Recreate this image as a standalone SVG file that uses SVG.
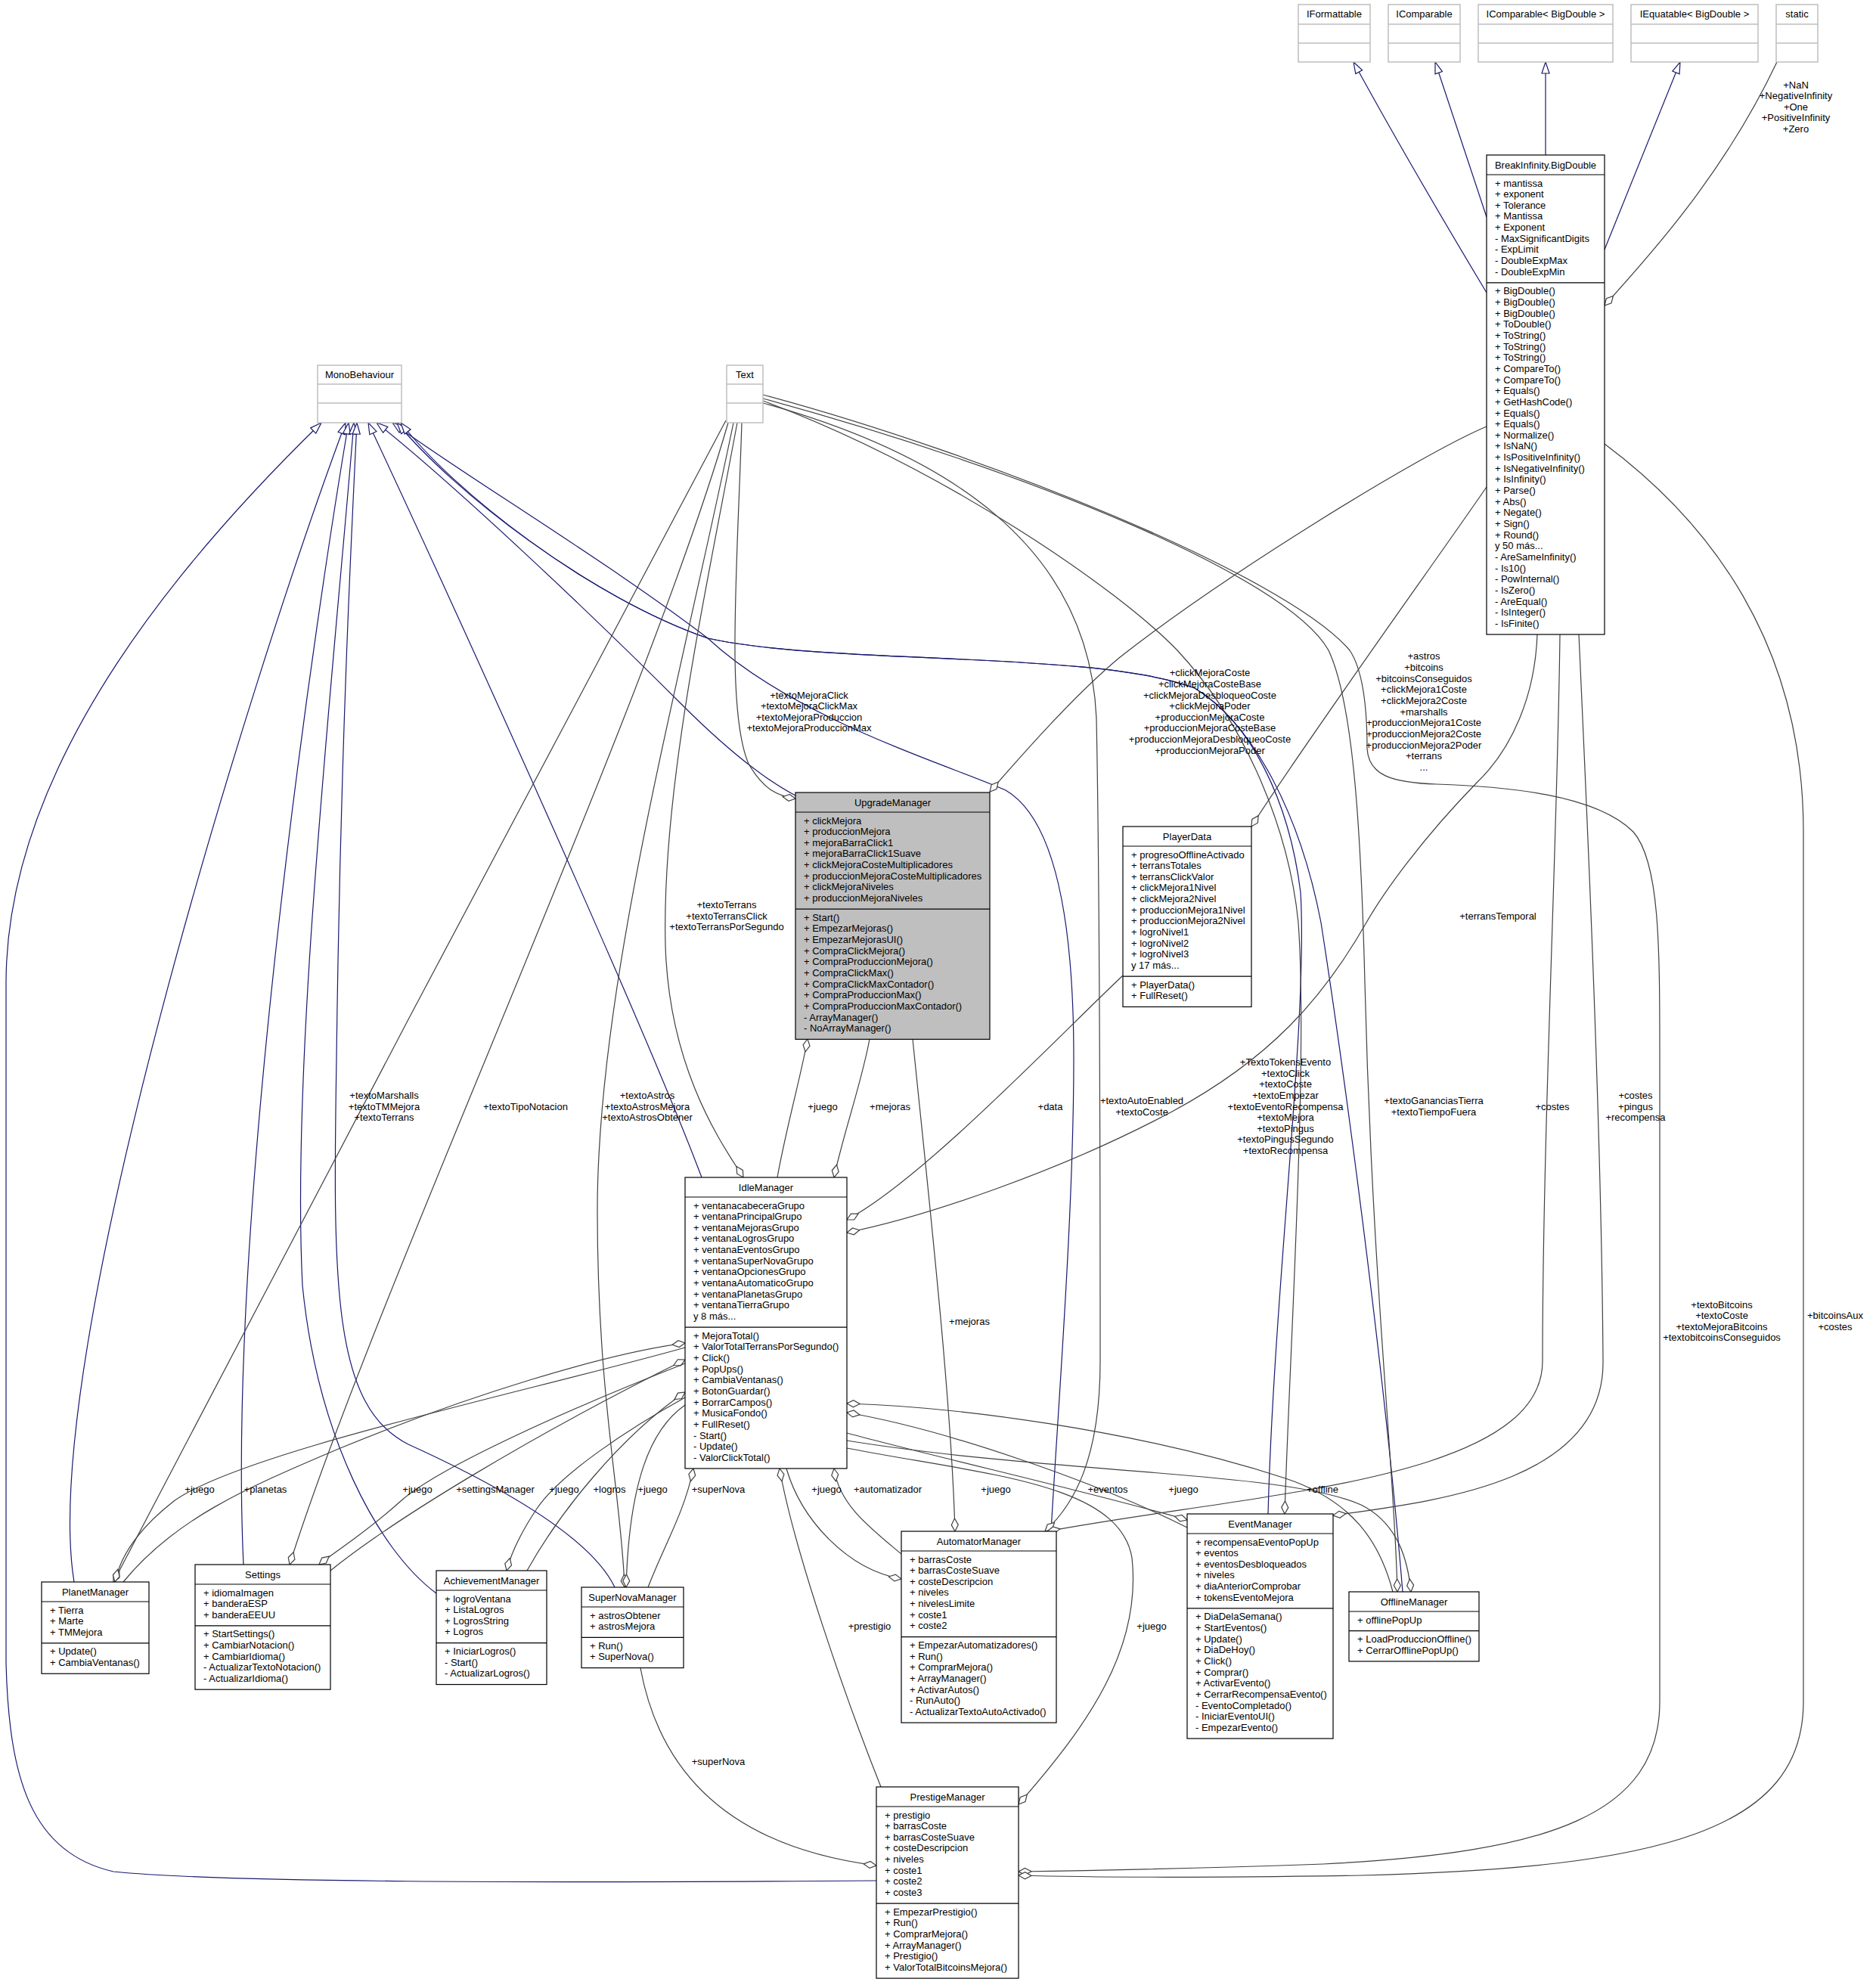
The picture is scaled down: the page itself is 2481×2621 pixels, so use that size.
<svg xmlns="http://www.w3.org/2000/svg" width="2481" height="2621" viewBox="0 0 2481 2621">
<style>
.box{fill:#fff;stroke:#000;stroke-width:1.2}
.sel{fill:#bfbfbf;stroke:#000;stroke-width:1.2}
.ext{fill:#fff;stroke:#bfbfbf;stroke-width:1.5}
.sep{fill:none;stroke:#000;stroke-width:1.2}
.esep{fill:none;stroke:#bfbfbf;stroke-width:1.5}
text{font-family:"Liberation Sans",Arial,sans-serif;font-size:13px;fill:#000}
.hd,.lb{text-anchor:middle}
.inh{fill:none;stroke:#191970;stroke-width:1.2;marker-end:url(#tri)}
.col{fill:none;stroke:#404040;stroke-width:1.2;marker-end:url(#dia)}
</style>
<defs>
<marker id="tri" markerUnits="userSpaceOnUse" viewBox="-1 -1 17 12" markerWidth="17" markerHeight="12" refX="15" refY="5" orient="auto">
<path d="M0,0 L15,5 L0,10 Z" fill="#fff" stroke="#191970" stroke-width="1.2"/>
</marker>
<marker id="dia" markerUnits="userSpaceOnUse" viewBox="-1 -1 19 11" markerWidth="19" markerHeight="11" refX="17" refY="4.5" orient="auto">
<path d="M0,4.5 L8.5,0 L17,4.5 L8.5,9 Z" fill="#fff" stroke="#404040" stroke-width="1.2"/>
</marker>
</defs>
<rect width="2481" height="2621" fill="#fff"/>

<!-- connectors -->
<g id="edges">
<!-- inheritance -->
<path class="inh" d="M1966,387 C1930,327 1860,210 1790,82"/>
<path class="inh" d="M1966,287 L1898,82"/>
<path class="inh" d="M2044,205 L2044,82"/>
<path class="inh" d="M2122,330 L2222,82"/>
<path class="inh" d="M1159,2487 C700,2490 300,2490 150,2475 C40,2450 12,2350 8,2200 L8,1300 C8,1000 260,720 425,559"/>
<path class="inh" d="M98,2092 C50,1800 330,900 457,559"/>
<path class="inh" d="M322,2069 C300,1600 420,800 461,559"/>
<path class="inh" d="M577,2107 C500,2050 420,1900 400,1700 C385,1400 440,900 468,559"/>
<path class="inh" d="M813,2099 C780,2030 650,1960 540,1910 C440,1860 440,1700 445,1400 C450,1000 465,700 472,559"/>
<path class="inh" d="M928,1557 C850,1350 600,800 487,559"/>
<path class="inh" d="M1052,1052 C1010,1030 960,990 900,930 C780,810 600,640 498,559"/>
<path class="inh" d="M1390,2025 C1400,1850 1420,1600 1420,1400 C1420,1200 1390,1080 1330,1045 C1250,1010 1050,950 936,844 C800,740 600,620 519,559"/>
<path class="inh" d="M1677,2002 C1685,1700 1730,1350 1720,1180 C1705,1060 1655,955 1580,910 C1450,860 1100,880 936,844 C780,790 600,650 525,559"/>
<path class="inh" d="M1855,2105 C1830,1800 1775,1400 1747,1220 C1720,1080 1660,960 1580,910 C1450,860 1100,880 936,844 C780,790 600,650 530,559"/>
<!-- usage -->
<path class="col" d="M2350,82 C2280,230 2180,340 2122,404"/>
<path class="col" d="M960,556 C820,820 320,1760 150,2092"/>
<path class="col" d="M963,559 C850,950 500,1700 383,2069"/>
<path class="col" d="M970,559 C900,900 790,1300 790,1600 C790,1850 822,1980 826,2099"/>
<path class="col" d="M975,559 C930,800 875,1050 880,1250 C885,1420 960,1520 983,1557"/>
<path class="col" d="M981,559 C975,750 960,940 990,1010 C1010,1045 1030,1053 1052,1056"/>
<path class="col" d="M1009,533 C1250,600 1440,720 1450,950 C1455,1200 1455,1600 1455,1800 C1455,1930 1420,1990 1382,2025"/>
<path class="col" d="M1009,530 C1250,620 1480,780 1557,860 C1650,960 1705,1100 1717,1220 C1730,1400 1705,1800 1699,2002"/>
<path class="col" d="M1009,527 C1350,620 1700,760 1757,860 C1790,930 1800,1100 1805,1300 C1815,1700 1845,1950 1848,2105"/>
<path class="col" d="M1009,522 C1300,600 1700,760 1785,860 C1805,890 1808,950 1808,990 C1810,1025 1840,1035 1900,1037 C1990,1040 2110,1050 2160,1100 C2195,1140 2195,1250 2195,1400 L2195,2250 C2195,2400 2050,2450 1750,2465 C1550,2472 1420,2474 1347,2475"/>
<path class="col" d="M1966,564 C1880,600 1620,760 1480,870 C1420,920 1350,1000 1309,1047"/>
<path class="col" d="M1966,644 C1900,740 1720,990 1655,1093"/>
<path class="col" d="M2033,839 C2030,920 2000,990 1953,1035 C1880,1110 1830,1180 1807,1220 C1750,1320 1680,1400 1550,1470 C1400,1550 1220,1610 1120,1630"/>
<path class="col" d="M2063,839 C2060,1100 2040,1500 2040,1800 C2040,1960 1650,1975 1385,2025"/>
<path class="col" d="M2088,839 C2100,1100 2118,1500 2120,1800 C2122,1960 1900,1985 1763,2004"/>
<path class="col" d="M2122,587 C2260,690 2385,850 2385,1100 L2385,2250 C2385,2420 2200,2470 1800,2480 C1550,2484 1420,2482 1347,2480"/>
<path class="col" d="M1485,1290 C1400,1370 1220,1560 1120,1613"/>
<path class="col" d="M1028,1557 C1040,1490 1060,1420 1068,1374"/>
<path class="col" d="M1150,1374 C1140,1430 1115,1500 1103,1557"/>
<path class="col" d="M1207,1374 C1230,1600 1258,1850 1263,2025"/>
<path class="col" d="M163,2092 C230,2010 320,1970 450,1915 C620,1845 800,1790 906,1776"/>
<path class="col" d="M906,1782 C700,1840 320,1920 230,1985 C185,2020 160,2055 152,2092"/>
<path class="col" d="M437,2077 C520,2010 700,1900 906,1798"/>
<path class="col" d="M906,1803 C760,1860 580,1940 530,1985 C480,2030 445,2050 422,2069"/>
<path class="col" d="M697,2077 C740,2000 820,1900 906,1841"/>
<path class="col" d="M906,1848 C830,1890 740,1950 710,1995 C690,2025 677,2050 670,2077"/>
<path class="col" d="M906,1858 C860,1890 832,1960 828,2099"/>
<path class="col" d="M857,2099 C880,2040 905,2000 917,1942"/>
<path class="col" d="M1165,2363 C1120,2250 1050,2050 1031,1942"/>
<path class="col" d="M1040,1942 C1060,2010 1120,2075 1192,2088"/>
<path class="col" d="M1192,2055 C1150,2020 1110,1990 1103,1942"/>
<path class="col" d="M1120,1895 C1250,1930 1450,1975 1570,2010"/>
<path class="col" d="M1570,2020 C1450,1960 1250,1890 1120,1868"/>
<path class="col" d="M1120,1905 C1400,1950 1700,1945 1800,1990 C1850,2015 1862,2065 1866,2105"/>
<path class="col" d="M1842,2105 C1825,2040 1790,1985 1700,1955 C1500,1890 1260,1860 1120,1856"/>
<path class="col" d="M1120,1915 C1300,1950 1480,1960 1497,2060 C1510,2180 1440,2280 1347,2386"/>
<path class="col" d="M847,2206 C870,2330 950,2440 1159,2467"/>

<!-- edge labels -->
<text class="lb" x="2375" y="116.5"><tspan x="2375">+NaN</tspan><tspan x="2375" dy="14.65">+NegativeInfinity</tspan><tspan x="2375" dy="14.65">+One</tspan><tspan x="2375" dy="14.65">+PositiveInfinity</tspan><tspan x="2375" dy="14.65">+Zero</tspan></text>
<text class="lb" x="1070" y="923.5"><tspan x="1070">+textoMejoraClick</tspan><tspan x="1070" dy="14.65">+textoMejoraClickMax</tspan><tspan x="1070" dy="14.65">+textoMejoraProduccion</tspan><tspan x="1070" dy="14.65">+textoMejoraProduccionMax</tspan></text>
<text class="lb" x="1600" y="894.2"><tspan x="1600">+clickMejoraCoste</tspan><tspan x="1600" dy="14.65">+clickMejoraCosteBase</tspan><tspan x="1600" dy="14.65">+clickMejoraDesbloqueoCoste</tspan><tspan x="1600" dy="14.65">+clickMejoraPoder</tspan><tspan x="1600" dy="14.65">+produccionMejoraCoste</tspan><tspan x="1600" dy="14.65">+produccionMejoraCosteBase</tspan><tspan x="1600" dy="14.65">+produccionMejoraDesbloqueoCoste</tspan><tspan x="1600" dy="14.65">+produccionMejoraPoder</tspan></text>
<text class="lb" x="1883" y="872.3"><tspan x="1883">+astros</tspan><tspan x="1883" dy="14.65">+bitcoins</tspan><tspan x="1883" dy="14.65">+bitcoinsConseguidos</tspan><tspan x="1883" dy="14.65">+clickMejora1Coste</tspan><tspan x="1883" dy="14.65">+clickMejora2Coste</tspan><tspan x="1883" dy="14.65">+marshalls</tspan><tspan x="1883" dy="14.65">+produccionMejora1Coste</tspan><tspan x="1883" dy="14.65">+produccionMejora2Coste</tspan><tspan x="1883" dy="14.65">+produccionMejora2Poder</tspan><tspan x="1883" dy="14.65">+terrans</tspan><tspan x="1883" dy="14.65">...</tspan></text>
<text class="lb" x="961" y="1200.9"><tspan x="961">+textoTerrans</tspan><tspan x="961" dy="14.65">+textoTerransClick</tspan><tspan x="961" dy="14.65">+textoTerransPorSegundo</tspan></text>
<text class="lb" x="1981" y="1215.5">+terransTemporal</text>
<text class="lb" x="508" y="1452.9"><tspan x="508">+textoMarshalls</tspan><tspan x="508" dy="14.65">+textoTMMejora</tspan><tspan x="508" dy="14.65">+textoTerrans</tspan></text>
<text class="lb" x="695" y="1467.5">+textoTipoNotacion</text>
<text class="lb" x="856" y="1452.9"><tspan x="856">+textoAstros</tspan><tspan x="856" dy="14.65">+textoAstrosMejora</tspan><tspan x="856" dy="14.65">+textoAstrosObtener</tspan></text>
<text class="lb" x="1088" y="1467.5">+juego</text>
<text class="lb" x="1177" y="1467.5">+mejoras</text>
<text class="lb" x="1389" y="1467.5">+data</text>
<text class="lb" x="1510" y="1460.2"><tspan x="1510">+textoAutoEnabled</tspan><tspan x="1510" dy="14.65">+textoCoste</tspan></text>
<text class="lb" x="1700" y="1408.9"><tspan x="1700">+TextoTokensEvento</tspan><tspan x="1700" dy="14.65">+textoClick</tspan><tspan x="1700" dy="14.65">+textoCoste</tspan><tspan x="1700" dy="14.65">+textoEmpezar</tspan><tspan x="1700" dy="14.65">+textoEventoRecompensa</tspan><tspan x="1700" dy="14.65">+textoMejora</tspan><tspan x="1700" dy="14.65">+textoPingus</tspan><tspan x="1700" dy="14.65">+textoPingusSegundo</tspan><tspan x="1700" dy="14.65">+textoRecompensa</tspan></text>
<text class="lb" x="1896" y="1460.2"><tspan x="1896">+textoGananciasTierra</tspan><tspan x="1896" dy="14.65">+textoTiempoFuera</tspan></text>
<text class="lb" x="2053" y="1467.5">+costes</text>
<text class="lb" x="2163" y="1452.9"><tspan x="2163">+costes</tspan><tspan x="2163" dy="14.65">+pingus</tspan><tspan x="2163" dy="14.65">+recompensa</tspan></text>
<text class="lb" x="1282" y="1751.5">+mejoras</text>
<text class="lb" x="2277" y="1729.5"><tspan x="2277">+textoBitcoins</tspan><tspan x="2277" dy="14.65">+textoCoste</tspan><tspan x="2277" dy="14.65">+textoMejoraBitcoins</tspan><tspan x="2277" dy="14.65">+textobitcoinsConseguidos</tspan></text>
<text class="lb" x="2427" y="1744.2"><tspan x="2427">+bitcoinsAux</tspan><tspan x="2427" dy="14.65">+costes</tspan></text>
<text class="lb" x="264" y="1973.5">+juego</text>
<text class="lb" x="351" y="1973.5">+planetas</text>
<text class="lb" x="552" y="1973.5">+juego</text>
<text class="lb" x="655" y="1973.5">+settingsManager</text>
<text class="lb" x="746" y="1973.5">+juego</text>
<text class="lb" x="806" y="1973.5">+logros</text>
<text class="lb" x="863" y="1973.5">+juego</text>
<text class="lb" x="950" y="1973.5">+superNova</text>
<text class="lb" x="1093" y="1973.5">+juego</text>
<text class="lb" x="1174" y="1973.5">+automatizador</text>
<text class="lb" x="1317" y="1973.5">+juego</text>
<text class="lb" x="1465" y="1973.5">+eventos</text>
<text class="lb" x="1565" y="1973.5">+juego</text>
<text class="lb" x="1749" y="1973.5">+offline</text>
<text class="lb" x="1150" y="2154.5">+prestigio</text>
<text class="lb" x="1523" y="2154.5">+juego</text>
<text class="lb" x="950" y="2333.5">+superNova</text>
</g>

<!-- external classes -->
<g id="IFormattable">
<rect class="ext" x="1717" y="6" width="95" height="76"/>
<path class="esep" d="M1717,32H1812M1717,57H1812"/>
<text class="hd" x="1764.5" y="23">IFormattable</text>
</g>
<g id="IComparable">
<rect class="ext" x="1836" y="6" width="95" height="76"/>
<path class="esep" d="M1836,32H1931M1836,57H1931"/>
<text class="hd" x="1883.5" y="23">IComparable</text>
</g>
<g id="IComparableBigDouble">
<rect class="ext" x="1955" y="6" width="178" height="76"/>
<path class="esep" d="M1955,32H2133M1955,57H2133"/>
<text class="hd" x="2044" y="23">IComparable&lt; BigDouble &gt;</text>
</g>
<g id="IEquatableBigDouble">
<rect class="ext" x="2157" y="6" width="168" height="76"/>
<path class="esep" d="M2157,32H2325M2157,57H2325"/>
<text class="hd" x="2241" y="23">IEquatable&lt; BigDouble &gt;</text>
</g>
<g id="static">
<rect class="ext" x="2349" y="6" width="55" height="76"/>
<path class="esep" d="M2349,32H2404M2349,57H2404"/>
<text class="hd" x="2376.5" y="23">static</text>
</g>
<g id="MonoBehaviour">
<rect class="ext" x="420" y="483" width="111" height="76"/>
<path class="esep" d="M420,508H531M420,533H531"/>
<text class="hd" x="475.5" y="500">MonoBehaviour</text>
</g>
<g id="Text">
<rect class="ext" x="961" y="483" width="48" height="76"/>
<path class="esep" d="M961,508H1009M961,533H1009"/>
<text class="hd" x="985" y="500">Text</text>
</g>

<!-- project classes -->
<g id="BigDouble">
<rect class="box" x="1966" y="205" width="156" height="634"/>
<path class="sep" d="M1966,231H2122M1966,373.85H2122"/>
<text class="hd" x="2044" y="223">BreakInfinity.BigDouble</text>
<text x="1977" y="246.5"><tspan x="1977">+ mantissa</tspan><tspan x="1977" dy="14.65">+ exponent</tspan><tspan x="1977" dy="14.65">+ Tolerance</tspan><tspan x="1977" dy="14.65">+ Mantissa</tspan><tspan x="1977" dy="14.65">+ Exponent</tspan><tspan x="1977" dy="14.65">- MaxSignificantDigits</tspan><tspan x="1977" dy="14.65">- ExpLimit</tspan><tspan x="1977" dy="14.65">- DoubleExpMax</tspan><tspan x="1977" dy="14.65">- DoubleExpMin</tspan></text>
<text x="1977" y="389.35"><tspan x="1977">+ BigDouble()</tspan><tspan x="1977" dy="14.65">+ BigDouble()</tspan><tspan x="1977" dy="14.65">+ BigDouble()</tspan><tspan x="1977" dy="14.65">+ ToDouble()</tspan><tspan x="1977" dy="14.65">+ ToString()</tspan><tspan x="1977" dy="14.65">+ ToString()</tspan><tspan x="1977" dy="14.65">+ ToString()</tspan><tspan x="1977" dy="14.65">+ CompareTo()</tspan><tspan x="1977" dy="14.65">+ CompareTo()</tspan><tspan x="1977" dy="14.65">+ Equals()</tspan><tspan x="1977" dy="14.65">+ GetHashCode()</tspan><tspan x="1977" dy="14.65">+ Equals()</tspan><tspan x="1977" dy="14.65">+ Equals()</tspan><tspan x="1977" dy="14.65">+ Normalize()</tspan><tspan x="1977" dy="14.65">+ IsNaN()</tspan><tspan x="1977" dy="14.65">+ IsPositiveInfinity()</tspan><tspan x="1977" dy="14.65">+ IsNegativeInfinity()</tspan><tspan x="1977" dy="14.65">+ IsInfinity()</tspan><tspan x="1977" dy="14.65">+ Parse()</tspan><tspan x="1977" dy="14.65">+ Abs()</tspan><tspan x="1977" dy="14.65">+ Negate()</tspan><tspan x="1977" dy="14.65">+ Sign()</tspan><tspan x="1977" dy="14.65">+ Round()</tspan><tspan x="1977" dy="14.65">y 50 más...</tspan><tspan x="1977" dy="14.65">- AreSameInfinity()</tspan><tspan x="1977" dy="14.65">- Is10()</tspan><tspan x="1977" dy="14.65">- PowInternal()</tspan><tspan x="1977" dy="14.65">- IsZero()</tspan><tspan x="1977" dy="14.65">- AreEqual()</tspan><tspan x="1977" dy="14.65">- IsInteger()</tspan><tspan x="1977" dy="14.65">- IsFinite()</tspan></text>
</g>

<g id="UpgradeManager">
<rect class="sel" x="1052" y="1048" width="257" height="326.35"/>
<path class="sep" d="M1052,1074H1309M1052,1202.2H1309"/>
<text class="hd" x="1180.5" y="1066">UpgradeManager</text>
<text x="1063" y="1089.5"><tspan x="1063">+ clickMejora</tspan><tspan x="1063" dy="14.65">+ produccionMejora</tspan><tspan x="1063" dy="14.65">+ mejoraBarraClick1</tspan><tspan x="1063" dy="14.65">+ mejoraBarraClick1Suave</tspan><tspan x="1063" dy="14.65">+ clickMejoraCosteMultiplicadores</tspan><tspan x="1063" dy="14.65">+ produccionMejoraCosteMultiplicadores</tspan><tspan x="1063" dy="14.65">+ clickMejoraNiveles</tspan><tspan x="1063" dy="14.65">+ produccionMejoraNiveles</tspan></text>
<text x="1063" y="1217.7"><tspan x="1063">+ Start()</tspan><tspan x="1063" dy="14.65">+ EmpezarMejoras()</tspan><tspan x="1063" dy="14.65">+ EmpezarMejorasUI()</tspan><tspan x="1063" dy="14.65">+ CompraClickMejora()</tspan><tspan x="1063" dy="14.65">+ CompraProduccionMejora()</tspan><tspan x="1063" dy="14.65">+ CompraClickMax()</tspan><tspan x="1063" dy="14.65">+ CompraClickMaxContador()</tspan><tspan x="1063" dy="14.65">+ CompraProduccionMax()</tspan><tspan x="1063" dy="14.65">+ CompraProduccionMaxContador()</tspan><tspan x="1063" dy="14.65">- ArrayManager()</tspan><tspan x="1063" dy="14.65">- NoArrayManager()</tspan></text>
</g>

<g id="PlayerData">
<rect class="box" x="1485" y="1093" width="170" height="238.45"/>
<path class="sep" d="M1485,1119H1655M1485,1291.15H1655"/>
<text class="hd" x="1570" y="1111">PlayerData</text>
<text x="1496" y="1134.5"><tspan x="1496">+ progresoOfflineActivado</tspan><tspan x="1496" dy="14.65">+ terransTotales</tspan><tspan x="1496" dy="14.65">+ terransClickValor</tspan><tspan x="1496" dy="14.65">+ clickMejora1Nivel</tspan><tspan x="1496" dy="14.65">+ clickMejora2Nivel</tspan><tspan x="1496" dy="14.65">+ produccionMejora1Nivel</tspan><tspan x="1496" dy="14.65">+ produccionMejora2Nivel</tspan><tspan x="1496" dy="14.65">+ logroNivel1</tspan><tspan x="1496" dy="14.65">+ logroNivel2</tspan><tspan x="1496" dy="14.65">+ logroNivel3</tspan><tspan x="1496" dy="14.65">y 17 más...</tspan></text>
<text x="1496" y="1306.65"><tspan x="1496">+ PlayerData()</tspan><tspan x="1496" dy="14.65">+ FullReset()</tspan></text>
</g>

<g id="IdleManager">
<rect class="box" x="906" y="1557" width="214" height="384.95"/>
<path class="sep" d="M906,1583H1120M906,1755.15H1120"/>
<text class="hd" x="1013" y="1575">IdleManager</text>
<text x="917" y="1598.5"><tspan x="917">+ ventanacabeceraGrupo</tspan><tspan x="917" dy="14.65">+ ventanaPrincipalGrupo</tspan><tspan x="917" dy="14.65">+ ventanaMejorasGrupo</tspan><tspan x="917" dy="14.65">+ ventanaLogrosGrupo</tspan><tspan x="917" dy="14.65">+ ventanaEventosGrupo</tspan><tspan x="917" dy="14.65">+ ventanaSuperNovaGrupo</tspan><tspan x="917" dy="14.65">+ ventanaOpcionesGrupo</tspan><tspan x="917" dy="14.65">+ ventanaAutomaticoGrupo</tspan><tspan x="917" dy="14.65">+ ventanaPlanetasGrupo</tspan><tspan x="917" dy="14.65">+ ventanaTierraGrupo</tspan><tspan x="917" dy="14.65">y 8 más...</tspan></text>
<text x="917" y="1770.65"><tspan x="917">+ MejoraTotal()</tspan><tspan x="917" dy="14.65">+ ValorTotalTerransPorSegundo()</tspan><tspan x="917" dy="14.65">+ Click()</tspan><tspan x="917" dy="14.65">+ PopUps()</tspan><tspan x="917" dy="14.65">+ CambiaVentanas()</tspan><tspan x="917" dy="14.65">+ BotonGuardar()</tspan><tspan x="917" dy="14.65">+ BorrarCampos()</tspan><tspan x="917" dy="14.65">+ MusicaFondo()</tspan><tspan x="917" dy="14.65">+ FullReset()</tspan><tspan x="917" dy="14.65">- Start()</tspan><tspan x="917" dy="14.65">- Update()</tspan><tspan x="917" dy="14.65">- ValorClickTotal()</tspan></text>
</g>

<g id="PlanetManager">
<rect class="box" x="55" y="2092" width="142" height="121.25"/>
<path class="sep" d="M55,2118H197M55,2172.95H197"/>
<text class="hd" x="126" y="2110">PlanetManager</text>
<text x="66" y="2133.5"><tspan x="66">+ Tierra</tspan><tspan x="66" dy="14.65">+ Marte</tspan><tspan x="66" dy="14.65">+ TMMejora</tspan></text>
<text x="66" y="2188.45"><tspan x="66">+ Update()</tspan><tspan x="66" dy="14.65">+ CambiaVentanas()</tspan></text>
</g>

<g id="Settings">
<rect class="box" x="258" y="2069" width="179" height="165.2"/>
<path class="sep" d="M258,2095H437M258,2149.95H437"/>
<text class="hd" x="347.5" y="2087">Settings</text>
<text x="269" y="2110.5"><tspan x="269">+ idiomaImagen</tspan><tspan x="269" dy="14.65">+ banderaESP</tspan><tspan x="269" dy="14.65">+ banderaEEUU</tspan></text>
<text x="269" y="2165.45"><tspan x="269">+ StartSettings()</tspan><tspan x="269" dy="14.65">+ CambiarNotacion()</tspan><tspan x="269" dy="14.65">+ CambiarIdioma()</tspan><tspan x="269" dy="14.65">- ActualizarTextoNotacion()</tspan><tspan x="269" dy="14.65">- ActualizarIdioma()</tspan></text>
</g>

<g id="AchievementManager">
<rect class="box" x="577" y="2077" width="146" height="150.55"/>
<path class="sep" d="M577,2103H723M577,2172.6H723"/>
<text class="hd" x="650" y="2095">AchievementManager</text>
<text x="588" y="2118.5"><tspan x="588">+ logroVentana</tspan><tspan x="588" dy="14.65">+ ListaLogros</tspan><tspan x="588" dy="14.65">+ LogrosString</tspan><tspan x="588" dy="14.65">+ Logros</tspan></text>
<text x="588" y="2188.1"><tspan x="588">+ IniciarLogros()</tspan><tspan x="588" dy="14.65">- Start()</tspan><tspan x="588" dy="14.65">- ActualizarLogros()</tspan></text>
</g>

<g id="SuperNovaManager">
<rect class="box" x="769" y="2099" width="135" height="106.6"/>
<path class="sep" d="M769,2125H904M769,2165.3H904"/>
<text class="hd" x="836.5" y="2117">SuperNovaManager</text>
<text x="780" y="2140.5"><tspan x="780">+ astrosObtener</tspan><tspan x="780" dy="14.65">+ astrosMejora</tspan></text>
<text x="780" y="2180.8"><tspan x="780">+ Run()</tspan><tspan x="780" dy="14.65">+ SuperNova()</tspan></text>
</g>

<g id="AutomatorManager">
<rect class="box" x="1192" y="2025" width="205" height="253.1"/>
<path class="sep" d="M1192,2051H1397M1192,2164.55H1397"/>
<text class="hd" x="1294.5" y="2043">AutomatorManager</text>
<text x="1203" y="2066.5"><tspan x="1203">+ barrasCoste</tspan><tspan x="1203" dy="14.65">+ barrasCosteSuave</tspan><tspan x="1203" dy="14.65">+ costeDescripcion</tspan><tspan x="1203" dy="14.65">+ niveles</tspan><tspan x="1203" dy="14.65">+ nivelesLimite</tspan><tspan x="1203" dy="14.65">+ coste1</tspan><tspan x="1203" dy="14.65">+ coste2</tspan></text>
<text x="1203" y="2180.05"><tspan x="1203">+ EmpezarAutomatizadores()</tspan><tspan x="1203" dy="14.65">+ Run()</tspan><tspan x="1203" dy="14.65">+ ComprarMejora()</tspan><tspan x="1203" dy="14.65">+ ArrayManager()</tspan><tspan x="1203" dy="14.65">+ ActivarAutos()</tspan><tspan x="1203" dy="14.65">- RunAuto()</tspan><tspan x="1203" dy="14.65">- ActualizarTextoAutoActivado()</tspan></text>
</g>

<g id="EventManager">
<rect class="box" x="1570" y="2002" width="193" height="297.05"/>
<path class="sep" d="M1570,2028H1763M1570,2126.9H1763"/>
<text class="hd" x="1666.5" y="2020">EventManager</text>
<text x="1581" y="2043.5"><tspan x="1581">+ recompensaEventoPopUp</tspan><tspan x="1581" dy="14.65">+ eventos</tspan><tspan x="1581" dy="14.65">+ eventosDesbloqueados</tspan><tspan x="1581" dy="14.65">+ niveles</tspan><tspan x="1581" dy="14.65">+ diaAnteriorComprobar</tspan><tspan x="1581" dy="14.65">+ tokensEventoMejora</tspan></text>
<text x="1581" y="2142.4"><tspan x="1581">+ DiaDelaSemana()</tspan><tspan x="1581" dy="14.65">+ StartEventos()</tspan><tspan x="1581" dy="14.65">+ Update()</tspan><tspan x="1581" dy="14.65">+ DiaDeHoy()</tspan><tspan x="1581" dy="14.65">+ Click()</tspan><tspan x="1581" dy="14.65">+ Comprar()</tspan><tspan x="1581" dy="14.65">+ ActivarEvento()</tspan><tspan x="1581" dy="14.65">+ CerrarRecompensaEvento()</tspan><tspan x="1581" dy="14.65">- EventoCompletado()</tspan><tspan x="1581" dy="14.65">- IniciarEventoUI()</tspan><tspan x="1581" dy="14.65">- EmpezarEvento()</tspan></text>
</g>

<g id="OfflineManager">
<rect class="box" x="1784" y="2105" width="172" height="91.95"/>
<path class="sep" d="M1784,2131H1956M1784,2156.65H1956"/>
<text class="hd" x="1870" y="2123">OfflineManager</text>
<text x="1795" y="2146.5">+ offlinePopUp</text>
<text x="1795" y="2172.15"><tspan x="1795">+ LoadProduccionOffline()</tspan><tspan x="1795" dy="14.65">+ CerrarOfflinePopUp()</tspan></text>
</g>

<g id="PrestigeManager">
<rect class="box" x="1159" y="2363" width="188" height="253.1"/>
<path class="sep" d="M1159,2389H1347M1159,2517.2H1347"/>
<text class="hd" x="1253" y="2381">PrestigeManager</text>
<text x="1170" y="2404.5"><tspan x="1170">+ prestigio</tspan><tspan x="1170" dy="14.65">+ barrasCoste</tspan><tspan x="1170" dy="14.65">+ barrasCosteSuave</tspan><tspan x="1170" dy="14.65">+ costeDescripcion</tspan><tspan x="1170" dy="14.65">+ niveles</tspan><tspan x="1170" dy="14.65">+ coste1</tspan><tspan x="1170" dy="14.65">+ coste2</tspan><tspan x="1170" dy="14.65">+ coste3</tspan></text>
<text x="1170" y="2532.7"><tspan x="1170">+ EmpezarPrestigio()</tspan><tspan x="1170" dy="14.65">+ Run()</tspan><tspan x="1170" dy="14.65">+ ComprarMejora()</tspan><tspan x="1170" dy="14.65">+ ArrayManager()</tspan><tspan x="1170" dy="14.65">+ Prestigio()</tspan><tspan x="1170" dy="14.65">+ ValorTotalBitcoinsMejora()</tspan></text>
</g>
</svg>
